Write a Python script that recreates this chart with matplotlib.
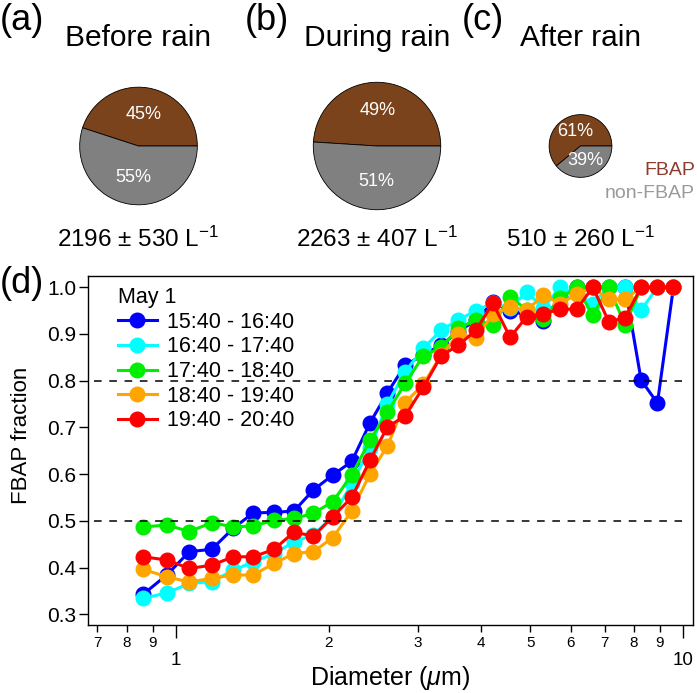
import matplotlib
matplotlib.use("Agg")
import matplotlib.pyplot as plt
from matplotlib.ticker import FixedLocator, FixedFormatter

plt.rcParams["font.family"] = ["Liberation Sans", "DejaVu Sans"]
plt.rcParams["mathtext.fontset"] = "custom"
plt.rcParams["mathtext.rm"] = "Liberation Sans"
plt.rcParams["mathtext.it"] = "Liberation Sans:italic"

W, H = 697, 693

# pie data
pie_tags = ["(a)", "(b)", "(c)"]
pie_titles = ["Before rain", "During rain", "After rain"]
fbap_pct = [45, 49, 61]
non_fbap_pct = [55, 51, 39]
conc_text = ["2196 ± 530", "2263 ± 407", "510 ± 260"]

# size-resolved FBAP fraction, May 1
diameter = [0.862, 0.961, 1.062, 1.176, 1.297, 1.420, 1.561, 1.709, 1.866, 2.038,
            2.221, 2.414, 2.611, 2.829, 3.074, 3.332, 3.605, 3.906, 4.214, 4.558,
            4.918, 5.302, 5.721, 6.171, 6.635, 7.137, 7.686, 8.265, 8.899, 9.570]
periods = ["15:40 - 16:40", "16:40 - 17:40", "17:40 - 18:40",
           "18:40 - 19:40", "19:40 - 20:40"]
frac_1540 = [0.343, 0.385, 0.434, 0.439, 0.484, 0.517, 0.518, 0.521, 0.566, 0.598,
             0.627, 0.710, 0.774, 0.833, 0.855, 0.876, 0.905, 0.930, 0.968, 0.950,
             0.940, 0.928, 0.980, 1.000, 1.000, 1.000, 1.000, 0.801, 0.752, 1.000]
frac_1640 = [0.334, 0.346, 0.366, 0.370, 0.394, 0.412, 0.430, 0.455, 0.470, 0.509,
             0.580, 0.656, 0.750, 0.819, 0.869, 0.908, 0.930, 0.950, 0.966, 0.955,
             0.990, 0.955, 1.000, 0.985, 0.965, 1.000, 1.000, 0.951, 1.000, 1.000]
frac_1740 = [0.487, 0.491, 0.477, 0.496, 0.487, 0.489, 0.501, 0.505, 0.516, 0.541,
             0.598, 0.673, 0.732, 0.794, 0.853, 0.871, 0.912, 0.930, 0.919, 0.980,
             0.951, 0.931, 0.976, 1.000, 0.940, 1.000, 0.919, 1.000, 1.000, 1.000]
frac_1840 = [0.396, 0.380, 0.369, 0.377, 0.384, 0.384, 0.409, 0.430, 0.434, 0.464,
             0.521, 0.601, 0.660, 0.753, 0.792, 0.855, 0.899, 0.892, 0.942, 0.958,
             0.951, 0.983, 0.965, 0.985, 1.000, 0.974, 0.974, 1.000, 1.000, 1.000]
frac_1940 = [0.423, 0.416, 0.398, 0.405, 0.423, 0.423, 0.439, 0.476, 0.467, 0.509,
             0.550, 0.630, 0.701, 0.724, 0.786, 0.853, 0.876, 0.908, 0.966, 0.893,
             0.937, 0.943, 0.953, 0.953, 1.000, 0.926, 0.935, 1.000, 1.000, 1.000]
series = [frac_1540, frac_1640, frac_1740, frac_1840, frac_1940]
colors = ["#0000FF", "#00FFFF", "#00EE00", "#FFA500", "#FF0000"]

x_minor = [0.7, 0.8, 0.9, 2, 3, 4, 5, 6, 7, 8, 9]
x_minor_labels = ["7", "8", "9", "2", "3", "4", "5", "6", "7", "8", "9"]
y_ticks = [0.3, 0.4, 0.5, 0.6, 0.7, 0.8, 0.9, 1.0]

FBAP_COLOR = "#7A431B"
NON_COLOR = "#808080"


def px(x, y):
    return x / W, 1 - y / H


def main():
    fig = plt.figure(figsize=(W / 100, H / 100), dpi=100)

    # pies: center x, center y, radius (pixels)
    pie_geo = [(138.5, 146, 60), (377, 146, 65), (580.5, 146, 32)]
    tag_x = [0, 245, 462]

    for i, (cx, cy, r) in enumerate(pie_geo):
        pax = fig.add_axes([(cx - r) / W, 1 - (cy + r) / H, 2 * r / W, 2 * r / H])
        pax.pie([fbap_pct[i], non_fbap_pct[i]], colors=[FBAP_COLOR, NON_COLOR],
                startangle=0, counterclock=True, radius=1,
                wedgeprops=dict(edgecolor="black", linewidth=0.6),
                autopct="%d%%", pctdistance=0.55 if i < 2 else 0.5,
                textprops=dict(color="white", fontsize=13))
        pax.set_xlim(-1.02, 1.02)
        pax.set_ylim(-1.02, 1.02)
        pax.set_aspect("equal")
        pax.axis("off")

        fig.text(*px(tag_x[i], 30), pie_tags[i], fontsize=26, ha="left", va="baseline")
        fig.text(*px(cx, 46.5), pie_titles[i], fontsize=21.5, ha="center", va="baseline")
        fig.text(*px(cx, 247), conc_text[i] + r" L$^{-1}$", fontsize=17.5,
                 ha="center", va="baseline")

    fig.text(*px(695, 175), "FBAP", color="#8E3B2E", fontsize=14, ha="right", va="baseline")
    fig.text(*px(695, 198), "non-FBAP", color="#9A9A9A", fontsize=14, ha="right", va="baseline")

    # size-resolved panel
    ax = fig.add_axes([87.5 / W, 1 - 625 / H, (692.6 - 87.5) / W, (625 - 276) / H])
    for vals, c, lab in zip(series, colors, periods):
        ax.plot(diameter, vals, "-o", color=c, lw=2.2, ms=10.5, label=lab)

    ax.hlines([0.5, 0.8], 0.69, 9.95, colors="black", linestyles=(0, (5, 5)), lw=1.1)

    ax.set_xscale("log")
    ax.set_xlim(0.669, 10.44)
    ax.set_ylim(0.277, 1.024)

    ax.xaxis.set_major_locator(FixedLocator([1, 10]))
    ax.xaxis.set_major_formatter(FixedFormatter(["1", "10"]))
    ax.xaxis.set_minor_locator(FixedLocator(x_minor))
    ax.xaxis.set_minor_formatter(FixedFormatter(x_minor_labels))
    ax.tick_params(axis="x", which="major", direction="out", length=9.5, width=1,
                   labelsize=13.5, pad=10)
    ax.tick_params(axis="x", which="minor", direction="out", length=5, width=1,
                   labelsize=11, pad=3)

    ax.set_yticks(y_ticks)
    ax.set_yticklabels([f"{v:.1f}" for v in y_ticks])
    ax.tick_params(axis="y", direction="out", length=6.8, width=1, labelsize=15, pad=1)

    for s in ax.spines.values():
        s.set_linewidth(1.0)

    ax.set_xlabel(r"Diameter ($\mu$m)", fontsize=18)
    ax.xaxis.set_label_coords(0.5, -0.112)
    ax.set_ylabel("FBAP fraction", fontsize=16)
    ax.yaxis.set_label_coords(-0.092, 0.544)

    fig.text(*px(0, 293), "(d)", fontsize=26, ha="left", va="baseline")

    ax.legend(title="May 1", loc="upper left", bbox_to_anchor=(0.05, 0.968),
              frameon=False, fontsize=15.5, title_fontsize=15.5, handlelength=1.8,
              handletextpad=0.5, labelspacing=0.17, borderpad=0, borderaxespad=0,
              alignment="left")

    fig.savefig("out.png", dpi=100)


if __name__ == "__main__":
    main()
